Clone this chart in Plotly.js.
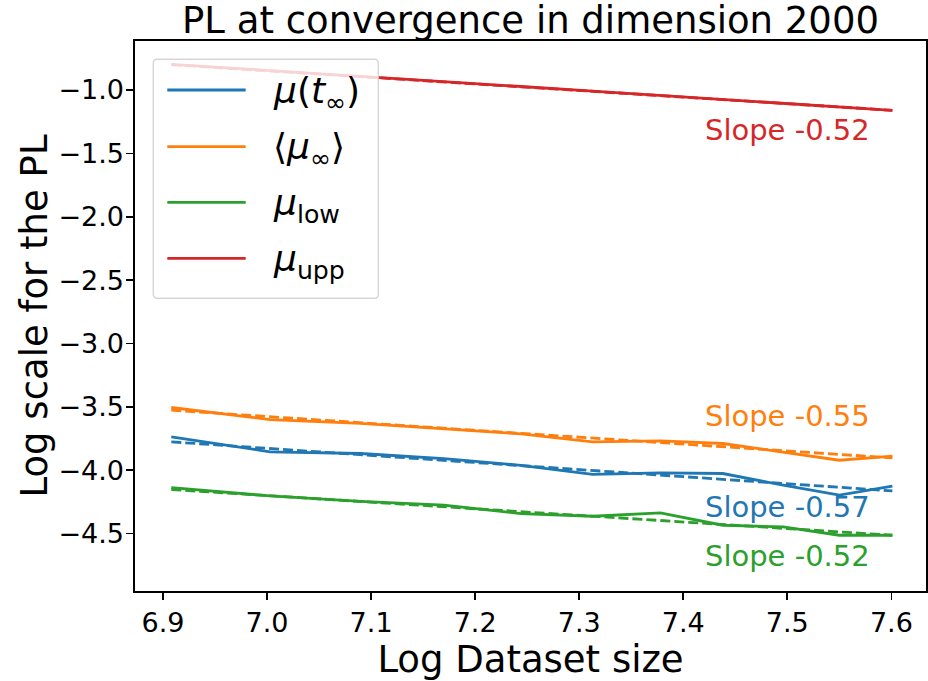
<!DOCTYPE html>
<html><head><meta charset="utf-8">
<script src="https://cdn.plot.ly/plotly-3.0.1.min.js"></script>
<style>html,body{margin:0;padding:0;background:#fff}</style>
</head><body><div id="chart" style="width:928px;height:681px"></div>
<script>
// ---- data ----
const logSize = [6.908, 7.003, 7.090, 7.170, 7.244, 7.313, 7.378, 7.438, 7.496, 7.550, 7.601];
const muTinf  = [-3.737, -3.855, -3.868, -3.908, -3.961, -4.032, -4.021, -4.026, -4.118, -4.197, -4.126];
const muMean  = [-3.505, -3.600, -3.631, -3.676, -3.713, -3.776, -3.768, -3.789, -3.855, -3.921, -3.889];
const muLow   = [-4.137, -4.203, -4.245, -4.276, -4.342, -4.363, -4.337, -4.434, -4.447, -4.513, -4.513];
const muUpp   = [-0.797, -0.848, -0.893, -0.934, -0.972, -1.008, -1.042, -1.074, -1.104, -1.133, -1.161];
const fitX    = [6.908, 7.601];
const fitTinf = [-3.776, -4.163];
const fitMean = [-3.526, -3.903];
const fitLow  = [-4.152, -4.513];
const fitUpp  = [-0.800, -1.160];
const seriesNames = ['<i>μ</i>(<i>t</i><sub>∞</sub>)', '⟨<i>μ</i><sub>∞</sub>⟩', '<i>μ</i><sub>low</sub>', '<i>μ</i><sub>upp</sub>'];
const slopeLabels = ['Slope -0.57', 'Slope -0.55', 'Slope -0.52', 'Slope -0.52'];
const xTicks = [6.9, 7.0, 7.1, 7.2, 7.3, 7.4, 7.5, 7.6];
const yTicks = [-1.0, -1.5, -2.0, -2.5, -3.0, -3.5, -4.0, -4.5];

// ---- styling ----
const FONT = 'DejaVu Sans, Verdana, sans-serif';
const colors = ['#1f77b4', '#ff7f0e', '#2ca02c', '#d62728'];
const series = [muTinf, muMean, muLow, muUpp];
const fits = [fitTinf, fitMean, fitLow, fitUpp];

const traces = [];
series.forEach((s, i) => {
  traces.push({x: logSize, y: s, mode: 'lines', line: {color: colors[i], width: 2.8}, showlegend: false, hoverinfo: 'skip'});
  traces.push({x: fitX, y: fits[i], mode: 'lines', line: {color: colors[i], width: 2.8, dash: '10px,4px'}, showlegend: false, hoverinfo: 'skip'});
});

// plot area in pixels
const L = 135, R = 926, T = 41, B = 591;
const px = x => (x - L) / (R - L);
const py = y => (B - y) / (B - T);

// legend box (custom, matplotlib-like)
const bx0 = px(153.3), bx1 = px(378.3), byT = py(59.3), byB = py(298.3);
const rx = 4 / (R - L), ry = 4 / (B - T);
const boxPath = `M${bx0+rx},${byT} L${bx1-rx},${byT} Q${bx1},${byT} ${bx1},${byT-ry} L${bx1},${byB+ry} Q${bx1},${byB} ${bx1-rx},${byB} L${bx0+rx},${byB} Q${bx0},${byB} ${bx0},${byB+ry} L${bx0},${byT-ry} Q${bx0},${byT} ${bx0+rx},${byT} Z`;
const shapes = [{type: 'path', xref: 'paper', yref: 'paper', path: boxPath, fillcolor: 'rgba(255,255,255,0.8)', line: {color: 'rgba(204,204,204,0.8)', width: 1.4}, layer: 'above'}];
const legendY = [90, 146.7, 202.3, 258.3];
const annotations = [];
legendY.forEach((yy, i) => {
  shapes.push({type: 'line', xref: 'paper', yref: 'paper', x0: px(167.3), x1: px(245.7), y0: py(yy), y1: py(yy), line: {color: colors[i], width: 2.8}, layer: 'above'});
  annotations.push({xref: 'paper', yref: 'paper', x: px(271), y: py(yy + 3), xanchor: 'left', yanchor: 'middle', text: seriesNames[i], showarrow: false, font: {family: FONT, size: 36, color: '#000'}});
});

// slope labels
const slopeY = [-4.287, -3.570, -4.679, -1.316];
slopeLabels.forEach((t, i) => {
  annotations.push({x: 7.5, y: slopeY[i], xref: 'x', yref: 'y', text: t, showarrow: false, xanchor: 'center', yanchor: 'middle', font: {family: FONT, size: 29, color: colors[i]}});
});

const axisCommon = {showline: true, mirror: true, linecolor: '#000', linewidth: 1.6, ticks: 'outside', ticklen: 7, tickwidth: 1.6, tickcolor: '#000', showgrid: false, zeroline: false, tickfont: {family: FONT, size: 27, color: '#000'}, tickformat: '.1f', automargin: false};

const layout = {
  width: 928, height: 681,
  margin: {l: L, r: 928 - R, t: T, b: 681 - B, pad: 0},
  paper_bgcolor: '#fff', plot_bgcolor: '#fff',
  font: {family: FONT, color: '#000'},
  title: {text: 'PL at convergence in dimension 2000', font: {family: FONT, size: 37, color: '#000'}, x: 0.5, xref: 'paper', y: 0.99, yref: 'container', yanchor: 'top'},
  xaxis: Object.assign({}, axisCommon, {range: [6.8731, 7.6333], tickvals: xTicks, title: {text: 'Log Dataset size', font: {family: FONT, size: 37, color: '#000'}}}),
  yaxis: Object.assign({}, axisCommon, {range: [-4.953, -0.613], tickvals: yTicks, ticklabelstandoff: -3, title: {text: 'Log scale for the PL', font: {family: FONT, size: 37, color: '#000'}}}),
  shapes: shapes,
  annotations: annotations,
  showlegend: false
};

Plotly.newPlot('chart', traces, layout, {displayModeBar: false, staticPlot: true});
</script>
</body></html>
